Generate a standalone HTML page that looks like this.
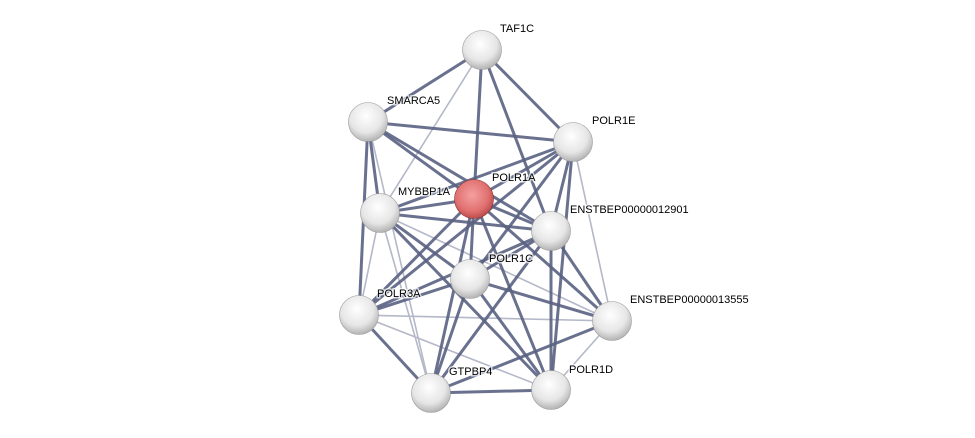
<!DOCTYPE html>
<html><head><meta charset="utf-8"><style>
html,body{margin:0;padding:0;background:#fff;}
svg{display:block;}
text{font-family:"Liberation Sans",sans-serif;font-size:11px;fill:#000;}
</style></head><body>
<svg width="975" height="438" viewBox="0 0 975 438">
<defs>
<radialGradient id="g" cx="45%" cy="35%" r="70%">
<stop offset="0" stop-color="#ffffff"/><stop offset="0.6" stop-color="#e6e6e6"/><stop offset="1" stop-color="#a8a8a8"/>
</radialGradient>
<radialGradient id="r" cx="45%" cy="40%" r="70%">
<stop offset="0" stop-color="#f6a0a0"/><stop offset="0.6" stop-color="#e07070"/><stop offset="1" stop-color="#a83a3a"/>
</radialGradient>
</defs>
<g id="edges"></g>
<g id="nodes"></g>
</svg>
<script>
var N={TAF:[482,50],SM:[368,122],P1E:[573,142],P1A:[474,199],MY:[380,213],E1:[551,231],P1C:[470,279],P3A:[359,315],E2:[612,321],GT:[431,393],P1D:[551,390]};
var dark=[["TAF","SM"],["TAF","P1E"],["TAF","P1A"],["TAF","E1"],["SM","P1E"],["SM","P1A"],["SM","MY"],["SM","E1"],["SM","P3A"],["P1E","P1A"],["P1E","MY"],["P1E","E1"],["P1E","P1C"],["P1E","P1D"],["P1E","P3A"],["P1A","MY"],["P1A","E1"],["P1A","P1C"],["P1A","P3A"],["P1A","GT"],["P1A","P1D"],["P1A","E2"],["MY","E1"],["MY","P1C"],["MY","P1D"],["E1","P1C"],["E1","E2"],["E1","P1D"],["E1","GT"],["E1","P3A"],["P1C","P3A"],["P1C","GT"],["P1C","P1D"],["P1C","E2"],["P3A","GT"],["GT","P1D"],["GT","E2"]];
var light=[["TAF","MY"],["SM","GT"],["MY","GT"],["MY","P3A"],["P3A","E2"],["P3A","P1D"],["P1D","E2"],["P1E","E2"],["MY","E2"]];
var s="";
light.forEach(function(e){var a=N[e[0]],b=N[e[1]];s+='<line x1="'+a[0]+'" y1="'+a[1]+'" x2="'+b[0]+'" y2="'+b[1]+'" stroke="#b4b8c8" stroke-width="1.6"/>';});
dark.forEach(function(e){var a=N[e[0]],b=N[e[1]];s+='<line x1="'+a[0]+'" y1="'+a[1]+'" x2="'+b[0]+'" y2="'+b[1]+'" stroke="#5a6282" stroke-width="3" stroke-opacity="0.9"/>';});
document.getElementById("edges").innerHTML=s;
var L={TAF:["TAF1C",500,32],SM:["SMARCA5",387,104],P1E:["POLR1E",592,124],P1A:["POLR1A",492,181],MY:["MYBBP1A",398,195],E1:["ENSTBEP00000012901",570,213],P1C:["POLR1C",489,262],P3A:["POLR3A",377,297],E2:["ENSTBEP00000013555",630,303],GT:["GTPBP4",449,375],P1D:["POLR1D",569,373]};
var t="";
for(var k in N){var p=N[k];t+='<circle cx="'+p[0]+'" cy="'+p[1]+'" r="19.5" fill="url(#'+(k=="P1A"?"r":"g")+')" stroke="'+(k=="P1A"?"#8a3030":"#999")+'" stroke-width="0.6"/>';}
for(var k in L){var l=L[k];t+='<text x="'+l[1]+'" y="'+l[2]+'" stroke="#fff" stroke-width="3" stroke-opacity="0.7" paint-order="stroke">'+l[0]+'</text>';}
document.getElementById("nodes").innerHTML=t;
</script>
</body></html>
